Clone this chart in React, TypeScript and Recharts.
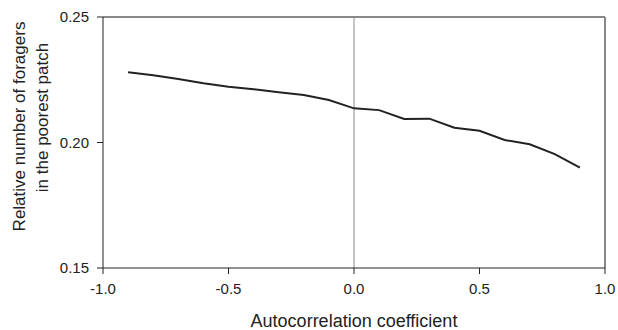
import { LineChart, Line, XAxis, YAxis, ReferenceLine } from 'recharts';

// values
const autocorrelation = [-0.9, -0.8, -0.7, -0.6, -0.5, -0.4, -0.3, -0.2, -0.1, 0, 0.1, 0.2, 0.3, 0.4, 0.5, 0.6, 0.7, 0.8, 0.9];
const foragers = [0.228, 0.2268, 0.2253, 0.2236, 0.2222, 0.2212, 0.22, 0.2189, 0.2169, 0.2136, 0.2129, 0.2094, 0.2095, 0.2059, 0.2047, 0.201, 0.1993, 0.1954, 0.19];
const xTicks = [-1, -0.5, 0, 0.5, 1];
const yTicks = [0.15, 0.2, 0.25];

const chartData = autocorrelation.map((x, i) => ({ x, y: foragers[i] }));

const FONT = '"Liberation Sans", Arial, sans-serif';

const YTitle = () => (
  <g fill="#222" fontSize={17} fontFamily={FONT}>
    <text transform="translate(25,126.5) rotate(-90)" textAnchor="middle">
      Relative number of foragers
    </text>
    <text transform="translate(48,117.5) rotate(-90)" textAnchor="middle">
      in the poorest patch
    </text>
  </g>
);

const XTitle = () => (
  <text x={354} y={327} textAnchor="middle" fill="#222" fontSize={18} fontFamily={FONT}>
    Autocorrelation coefficient
  </text>
);

export default function App() {
  return (
    <div style={{ position: 'absolute', left: 0, top: 0, background: '#fff' }}>
      <LineChart
        width={618}
        height={330}
        data={chartData}
        margin={{ top: 17, right: 13, left: 0, bottom: 0 }}
        style={{ fontFamily: FONT }}
      >
        <XAxis
          dataKey="x"
          type="number"
          domain={[-1, 1]}
          ticks={xTicks}
          tickFormatter={(v: number) => v.toFixed(1)}
          height={62}
          tickSize={6}
          tickMargin={9}
          stroke="#222"
          tick={{ fill: '#222', fontSize: 15 }}
          label={XTitle}
        />
        <YAxis
          type="number"
          domain={[0.15, 0.25]}
          ticks={yTicks}
          tickFormatter={(v: number) => v.toFixed(2)}
          width={103}
          tickSize={6}
          tickMargin={8}
          stroke="#222"
          tick={{ fill: '#222', fontSize: 15 }}
          label={YTitle}
        />
        <ReferenceLine x={0} stroke="#888" strokeWidth={1} />
        <ReferenceLine y={0.25} stroke="#888" strokeWidth={2} />
        <ReferenceLine x={1} stroke="#888" strokeWidth={2} />
        <Line
          type="linear"
          dataKey="y"
          stroke="#222"
          strokeWidth={2}
          dot={false}
          isAnimationActive={false}
        />
      </LineChart>
    </div>
  );
}
